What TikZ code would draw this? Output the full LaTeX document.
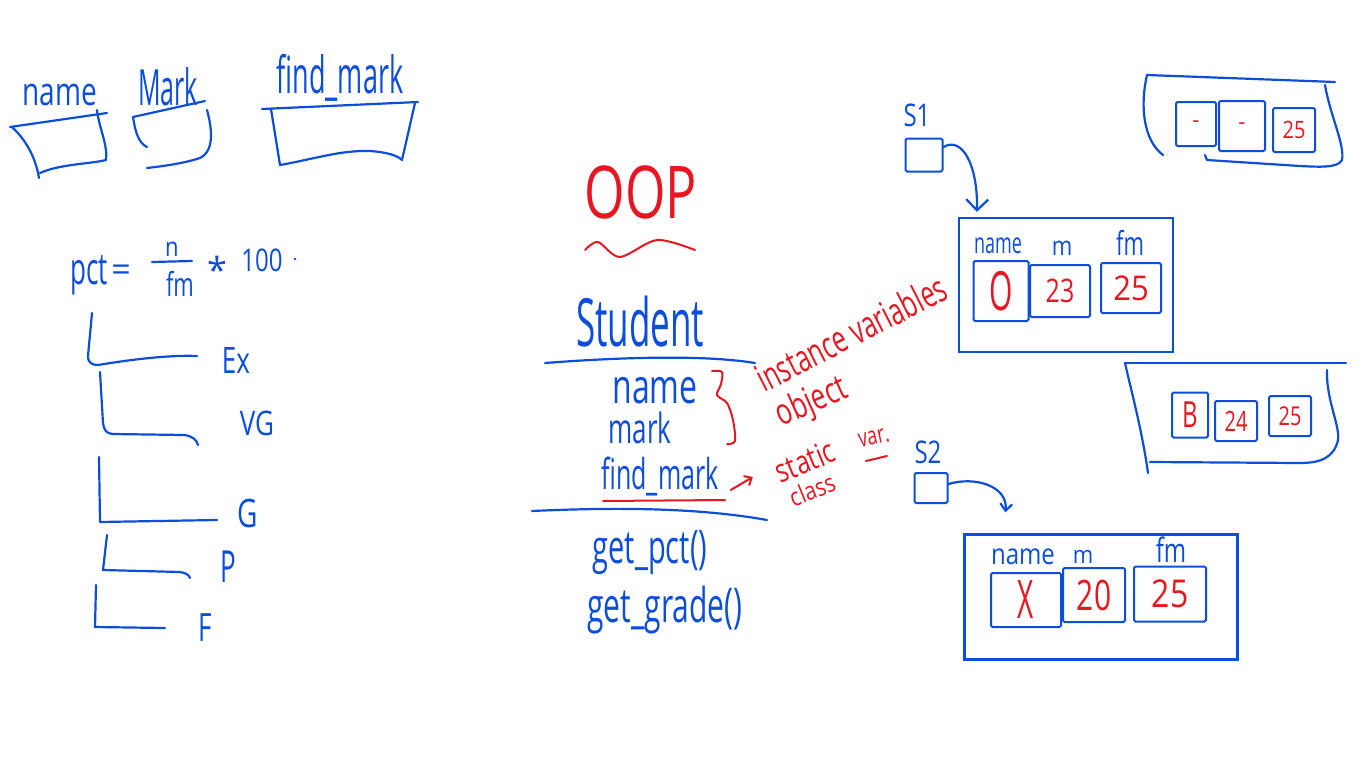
\documentclass[tikz,border=0pt]{standalone}
\usepackage{fontspec}
\setmainfont{Open Sans}
\usepackage{graphicx}
\usetikzlibrary{arrows.meta,calc}
\definecolor{ink}{RGB}{12,78,218}
\definecolor{redink}{RGB}{232,22,32}
\newcommand{\hw}[3]{\scalebox{1}[#2]{\fontsize{#1}{#1}\selectfont #3}}
\begin{document}
\begin{tikzpicture}[x=1pt,y=-1pt,
  pen/.style={draw=ink,line width=2.2pt,line cap=round,line join=round},
  rpen/.style={draw=redink,line width=2pt,line cap=round,line join=round},
  bt/.style={text=ink,inner sep=0pt},
  rt/.style={text=redink,inner sep=0pt},
  cell/.style={draw=ink,line width=2pt,inner sep=0pt,rounded corners=1.5pt},
  objbox/.style={draw=ink,line width=2.2pt,inner sep=0pt},
  ptr/.style={pen,-{Straight Barb[length=11pt,width=22pt]}},
  sptr/.style={pen,-{Straight Barb[length=7pt,width=12pt]}},
]
\fill[white] (0,0) rectangle (1366,768);
\useasboundingbox (0,0) rectangle (1366,768);

% ---------- top-left variable boxes ----------
\node[bt] (lname) at (60,95) {\hw{28}{1.4}{name}};
\node[bt] (lmark) at (168,87) {\hw{25}{2}{Mark}};
\node[bt] (lfind) at (340,78) {\hw{27}{1.9}{find\_mark}};
\draw[pen] (10,127) -- (107,113);
\draw[pen] (12,127) .. controls (28,142) and (36,160) .. (39,178);
\draw[pen] (97,110) .. controls (99,128) and (108,145) .. (106,160) .. controls (90,164) and (60,164) .. (40,173);
\draw[pen] (133,117) -- (205,101);
\draw[pen] (133,117) .. controls (135,130) and (138,143) .. (147,147);
\draw[pen] (207,110) .. controls (211,125) and (216,150) .. (200,158) .. controls (185,163) and (165,166) .. (147,168);
\draw[pen] (262,109) -- (418,102);
\draw[pen] (271,109) -- (280,165) .. controls (310,160) and (340,150) .. (370,151) .. controls (385,152) and (397,155) .. (402,160) -- (415,103);

% ---------- formula ----------
\node[bt] (pct) at (89,275) {\hw{26}{1.7}{pct}};
\node[bt] (eq) at (121,273) {\hw{34}{1}{=}};
\node[bt] (fn) at (172,249) {\hw{22}{1.2}{n}};
\node[bt] (fd) at (180,284) {\hw{22}{1.5}{fm}};
\draw[pen] (152,262) -- (192,261);
\node[bt] (star) at (217,270) {\hw{36}{1}{*}};
\node[bt] (hund) at (262,260) {\hw{24}{1.3}{100}};
\fill[ink] (295,259) circle (1.3);

% ---------- grade tree ----------
\draw[pen] (92,313) -- (88,356) .. controls (88,363) and (92,365) .. (98,365) .. controls (140,358) and (175,355) .. (197,356);
\draw[pen] (100,372) -- (103,423) .. controls (104,430) and (106,433) .. (112,434) -- (185,435) .. controls (192,436) and (197,440) .. (198,445);
\draw[pen] (99,457) -- (100,522) -- (217,520);
\draw[pen] (107,535) -- (103,570) -- (180,572) .. controls (186,573) and (189,575) .. (190,578);
\draw[pen] (96,585) -- (95,627) -- (165,628);
\node[bt] (gex) at (236,361) {\hw{26}{1.4}{Ex}};
\node[bt] (gvg) at (257,423) {\hw{26}{1.3}{VG}};
\node[bt] (gg) at (248,513) {\hw{28}{1.4}{G}};
\node[bt] (gp) at (228,567) {\hw{26}{1.7}{P}};
\node[bt] (gf) at (205,628) {\hw{26}{1.5}{F}};

% ---------- class Student ----------
\node[rt] (oop) at (641,192) {\hw{52}{1.4}{OOP}};
\draw[rpen] plot[smooth] coordinates {(585,250) (598,242) (620,257) (657,240) (695,250)};
\node[bt] (student) at (640,322) {\hw{35}{1.9}{Student}};
\draw[pen] (545,363) .. controls (610,358) and (700,354) .. (755,363);
\node[bt] (aname) at (655,391) {\hw{32}{1.5}{name}};
\node[bt] (amark) at (640,428) {\hw{26}{1.6}{mark}};
\node[bt] (afind) at (660,477) {\hw{25}{1.7}{find\_mark}};
\draw[rpen] (603,501) -- (725,500);
\draw[pen] (532,511) .. controls (620,507) and (700,508) .. (767,520);
\node[bt] (gpct) at (650,553) {\hw{29}{1.6}{get\_pct()}};
\node[bt] (ggrade) at (665,610) {\hw{30}{1.6}{get\_grade()}};

% ---------- red annotations ----------
\draw[rpen] plot[smooth] coordinates {(712,371) (722,372) (721,384) (717,395) (727,403) (733,420) (735,441) (727,444)};
\node[rt,rotate=27] (inst) at (851,333) {\hw{25}{1.5}{instance variables}};
\node[rt,rotate=24] (objlbl) at (812,403) {\hw{26}{1.4}{object}};
\node[rt,rotate=22] (stat) at (805,461) {\hw{25}{1.3}{static}};
\node[rt,rotate=22] (cls) at (812,490) {\hw{21}{1.2}{class}};
\node[rt,rotate=12] (var) at (874,438) {\hw{18}{1.4}{var.}};
\draw[rpen] (866,461) -- (887,456);
\draw[rpen,-{Straight Barb[length=6pt,width=11pt]}] ($(afind.east)+(12,13)$) -- ($(afind.east)+(34,0)$);

% ---------- object s1 ----------
\node[bt] (s1lbl) at (917,115) {\hw{24}{1.3}{S1}};
\node[cell,minimum width=37,minimum height=33] (s1) at (924,155) {};
\node[objbox,minimum width=214,minimum height=134] (obj1) at (1066,285) {};
\node[bt] at (998,246) {\hw{18}{1.6}{name}};
\node[bt] at (1062,248) {\hw{22}{1.2}{m}};
\node[bt] at (1130,243) {\hw{22}{1.5}{fm}};
\node[cell,minimum width=55,minimum height=60] (c11) at (1001,291) {};
\node[cell,minimum width=60,minimum height=52] (c12) at (1060,291) {};
\node[cell,minimum width=60,minimum height=50] (c13) at (1131,288) {};
\node[rt] at (c11) {\hw{30}{1.8}{O}};
\node[rt] at (c12) {\hw{25}{1.3}{23}};
\node[rt] at (c13) {\hw{31}{1.1}{25}};
\draw[ptr] ($(s1.east)+(0,-8)$) .. controls (962,136) and (978,165) .. ($(obj1.north west)+(19,-5)$);

% ---------- unreferenced object (top right) ----------
\draw[pen] (1147,75) -- (1335,82);
\draw[pen] (1147,75) .. controls (1140,105) and (1143,140) .. (1163,155);
\draw[pen] (1325,85) .. controls (1330,115) and (1345,145) .. (1342,160) .. controls (1338,168) and (1320,167) .. (1300,166) -- (1207,160) -- (1205,155);
\node[cell,minimum width=40,minimum height=44] (g1) at (1196,124) {};
\node[cell,minimum width=46,minimum height=50] (g2) at (1242,126) {};
\node[cell,minimum width=42,minimum height=44] (g3) at (1294,130) {};
\node[rt] at (g1) {\hw{22}{1}{-}};
\node[rt] at (g2) {\hw{22}{1}{-}};
\node[rt] at (g3) {\hw{20}{1.2}{25}};

% ---------- unreferenced object (middle right) ----------
\draw[pen] (1125,363) -- (1346,363);
\draw[pen] (1125,363) .. controls (1131,390) and (1142,430) .. (1148,473);
\draw[pen] (1327,370) .. controls (1326,400) and (1340,425) .. (1338,440) .. controls (1334,458) and (1320,463) .. (1300,463) -- (1150,462);
\node[cell,minimum width=36,minimum height=45] (m1) at (1190,415) {};
\node[cell,minimum width=42,minimum height=40] (m2) at (1236,421) {};
\node[cell,minimum width=42,minimum height=40] (m3) at (1290,416) {};
\node[rt] at (m1) {\hw{24}{1.5}{B}};
\node[rt] at (m2) {\hw{20}{1.4}{24}};
\node[rt] at (m3) {\hw{20}{1.3}{25}};

% ---------- object s2 ----------
\node[bt] (s2lbl) at (928,452) {\hw{24}{1.3}{S2}};
\node[cell,minimum width=33,minimum height=30] (s2) at (931,488) {};
\node[objbox,minimum width=273,minimum height=125] (obj2) at (1101,597) {};
\node[bt] at (1023,557) {\hw{24}{1.2}{name}};
\node[bt] at (1083,557) {\hw{22}{1.1}{m}};
\node[bt] at (1171,550) {\hw{24}{1.4}{fm}};
\node[cell,minimum width=70,minimum height=54] (x1) at (1026,600) {};
\node[cell,minimum width=62,minimum height=54] (x2) at (1094,595) {};
\node[cell,minimum width=72,minimum height=55] (x3) at (1170,594) {};
\node[rt] at (x1) {\hw{28}{1.9}{X}};
\node[rt] at (x2) {\hw{30}{1.4}{20}};
\node[rt] at (x3) {\hw{32}{1.2}{25}};
\draw[sptr] ($(s2.east)+(0,-4)$) .. controls (975,476) and (1008,486) .. ($(obj2.north west)+(42,-21)$);
\end{tikzpicture}
\end{document}
